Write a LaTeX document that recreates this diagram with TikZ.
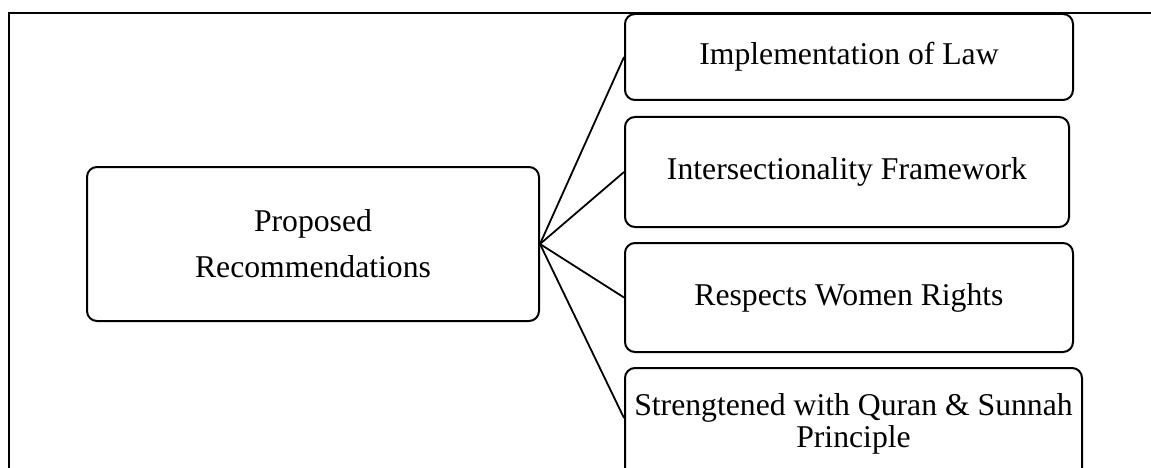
\documentclass[tikz,border=0pt]{standalone}
\usepackage{fontspec}
\setmainfont{Liberation Serif}
\tikzset{
  recbox/.style={draw, line width=2pt, rounded corners=10pt, inner sep=2pt, align=center, font=\fontsize{31.7}{38}\selectfont},
  link/.style={line width=1.8pt}
}

\begin{document}
\begin{tikzpicture}[x=1pt,y=-1pt]
\clip (0,0) rectangle (1151,468);

% Frame
\draw[line width=2pt] (8.5,468) -- (8.5,13) -- (1151,13);

% Main box
\node[recbox, minimum width=452pt, minimum height=154pt, font=\fontsize{31.7}{46}\selectfont] (prop) at (313,244) {Proposed\\Recommendations};

% Recommendation boxes
\node[recbox, minimum width=448pt, minimum height=86pt] (law) at (849,57) {Implementation of Law};
\node[recbox, minimum width=444pt, minimum height=110pt] (inter) at (847,172) {Intersectionality Framework};
\node[recbox, minimum width=448pt, minimum height=109pt] (rights) at (849,297.5) {Respects Women Rights};
\node[recbox, minimum width=457pt, minimum height=112pt, font=\fontsize{31.7}{32}\selectfont] (quran) at (853.5,424) {Strengtened with Quran \& Sunnah\\Principle};

% Links
\foreach \b in {law,inter,rights} {
\draw[link] (prop.east) -- (\b.west);
}
\draw[link] (prop.east) -- ([yshift=6pt]quran.west);

\end{tikzpicture}
\end{document}
